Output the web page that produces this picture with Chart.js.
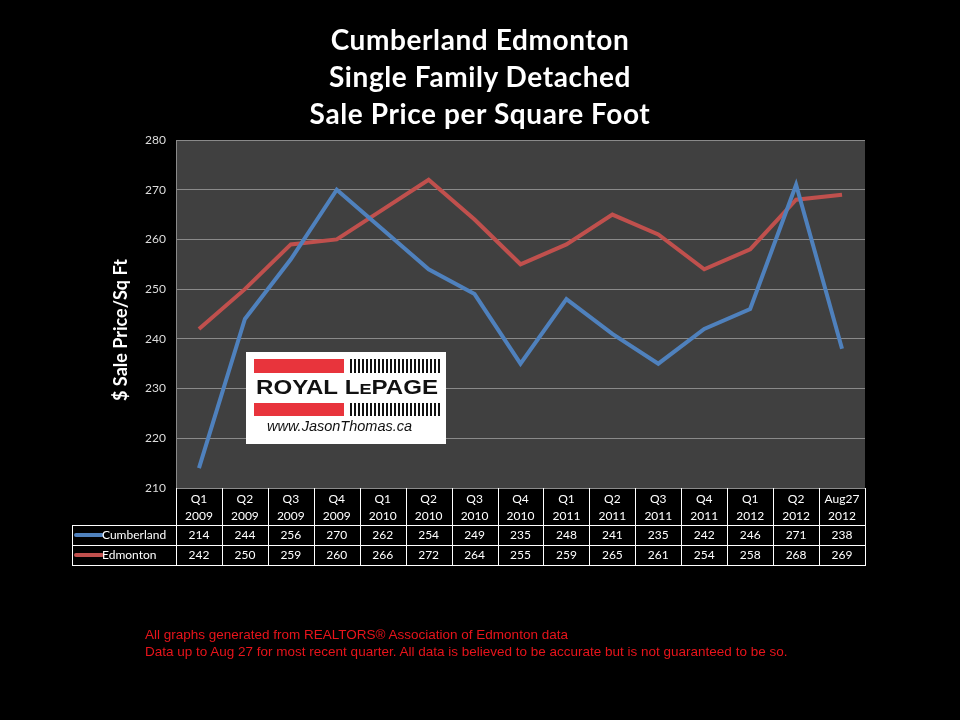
<!DOCTYPE html>
<html>
<head>
<meta charset="utf-8">
<script src="https://cdn.jsdelivr.net/npm/chart.js@4.4.1/dist/chart.umd.min.js"></script>
<style>
  body { margin: 0; background: #000; }
  #wrap { position: relative; width: 960px; height: 720px; background: #000; }
  #title {
    position: absolute; left: 0; top: 21px; width: 960px; text-align: center;
    color: #fff; font-family: Lato, 'Open Sans', sans-serif; font-weight: bold;
    font-size: 28px; line-height: 37px; letter-spacing: 0.6px;
  }
  #foot {
    position: absolute; left: 145px; top: 626px; color: #e8141b;
    font-family: 'Liberation Sans', sans-serif; font-size: 13.5px; line-height: 17px;
  }
  canvas { position: absolute; left: 0; top: 0; }
</style>
</head>
<body>
<div id="wrap">
  <canvas id="priceChart" width="960" height="720"></canvas>
  <div id="title">Cumberland Edmonton<br>Single Family Detached<br>Sale Price per Square Foot</div>
  <div id="foot">All graphs generated from REALTORS® Association of Edmonton data<br>Data up to Aug 27 for most recent quarter. All data is believed to be accurate but is not guaranteed to be so.</div>
</div>
<script>
const periods = [['Q1','2009'],['Q2','2009'],['Q3','2009'],['Q4','2009'],['Q1','2010'],['Q2','2010'],['Q3','2010'],['Q4','2010'],
                 ['Q1','2011'],['Q2','2011'],['Q3','2011'],['Q4','2011'],['Q1','2012'],['Q2','2012'],['Aug27','2012']];
const cumberland = [214, 244, 256, 270, 262, 254, 249, 235, 248, 241, 235, 242, 246, 271, 238];
const edmonton = [242, 250, 259, 260, 266, 272, 264, 255, 259, 265, 261, 254, 258, 268, 269];
const yTicks = { min: 210, max: 280, step: 10 };

const BLUE = '#4f81bd';
const RED = '#c0504d';
const FONT = "Lato, 'Open Sans', sans-serif";

// dark grey plot background
const plotBg = {
    id: 'plotBg',
    beforeDraw(chart) {
        const a = chart.chartArea, ctx = chart.ctx;
        ctx.save();
        ctx.fillStyle = '#404040';
        ctx.fillRect(a.left, a.top, a.right - a.left, a.bottom - a.top);
        ctx.restore();
    }
};

// y axis title, sits a bit below the middle like the original
const yTitle = {
    id: 'yTitle',
    afterDraw(chart) {
        const ctx = chart.ctx;
        ctx.save();
        ctx.translate(121, 330);
        ctx.rotate(-Math.PI / 2);
        ctx.fillStyle = '#fff';
        ctx.font = 'bold 18px ' + FONT;
        ctx.textAlign = 'center';
        ctx.textBaseline = 'middle';
        ctx.fillText('$ Sale Price/Sq Ft', 0, 0);
        ctx.restore();
    }
};

// data table under the plot (category labels + values)
const dataTable = {
    id: 'dataTable',
    afterDraw(chart) {
        const ctx = chart.ctx, a = chart.chartArea, x = chart.scales.x;
        const n = periods.length;
        const colW = (a.right - a.left) / n;
        const headBottom = a.bottom + 37;
        const row1 = headBottom + 20, row2 = row1 + 20;
        const tableLeft = 72;
        ctx.save();
        ctx.strokeStyle = '#fff';
        ctx.lineWidth = 1;
        ctx.beginPath();
        for (let i = 0; i <= n; i++) {
            const lx = Math.round(a.left + i * colW) + 0.5;
            ctx.moveTo(lx, a.bottom); ctx.lineTo(lx, row2);
        }
        ctx.moveTo(tableLeft + 0.5, headBottom); ctx.lineTo(tableLeft + 0.5, row2);
        [headBottom, row1, row2].forEach(ly => {
            ctx.moveTo(tableLeft, ly + 0.5); ctx.lineTo(Math.round(a.right) + 1, ly + 0.5);
        });
        ctx.stroke();

        ctx.fillStyle = '#fff';
        ctx.font = '12px ' + FONT;
        ctx.textAlign = 'center';
        ctx.textBaseline = 'middle';
        periods.forEach((p, i) => {
            const cx = x.getPixelForValue(i);
            ctx.fillText(p[0], cx, a.bottom + 11);
            ctx.fillText(p[1], cx, a.bottom + 28);
            ctx.fillText(cumberland[i], cx, headBottom + 10);
            ctx.fillText(edmonton[i], cx, row1 + 10);
        });

        // series keys
        ctx.textAlign = 'left';
        chart.data.datasets.forEach((ds, k) => {
            const cy = headBottom + 10 + k * 20;
            ctx.strokeStyle = ds.borderColor;
            ctx.lineWidth = 4;
            ctx.lineCap = 'round';
            ctx.beginPath();
            ctx.moveTo(76, cy); ctx.lineTo(102, cy);
            ctx.stroke();
            ctx.fillStyle = '#fff';
            ctx.fillText(ds.label, 102, cy);
        });
        ctx.restore();
    }
};

// Royal LePage badge
const logo = {
    id: 'logo',
    afterDraw(chart) {
        const ctx = chart.ctx;
        const L = 246, T = 352;
        ctx.save();
        ctx.fillStyle = '#fff';
        ctx.fillRect(L, T, 200, 92);
        ctx.fillStyle = '#e8343c';
        ctx.fillRect(L + 8, T + 7, 90, 14);
        ctx.fillRect(L + 8, T + 51, 90, 13);
        ctx.fillStyle = '#111';
        for (let bx = L + 104; bx < L + 193; bx += 4) {
            ctx.fillRect(bx, T + 7, 2, 14);
            ctx.fillRect(bx, T + 51, 2, 13);
        }
        // wordmark, stretched to the badge width
        const big = 'bold 20px "Liberation Sans", Arial, sans-serif';
        const small = 'bold 15px "Liberation Sans", Arial, sans-serif';
        ctx.font = big; const w1 = ctx.measureText('ROYAL L').width; const w3 = ctx.measureText('PAGE').width;
        ctx.font = small; const w2 = ctx.measureText('E').width;
        const sx = 182 / (w1 + w2 + w3);
        ctx.save();
        ctx.translate(L + 10, T + 42);
        ctx.scale(sx, 1);
        ctx.textBaseline = 'alphabetic';
        ctx.font = big; ctx.fillText('ROYAL L', 0, 0);
        ctx.font = small; ctx.fillText('E', w1, 0);
        ctx.font = big; ctx.fillText('PAGE', w1 + w2, 0);
        ctx.restore();
        ctx.font = 'italic 14.5px "Liberation Sans", Arial, sans-serif';
        ctx.fillText('www.JasonThomas.ca', L + 21, T + 79);
        ctx.restore();
    }
};

new Chart(document.getElementById('priceChart'), {
    type: 'line',
    data: {
        labels: periods.map(p => p.join(' ')),
        datasets: [
            { label: 'Cumberland', data: cumberland, borderColor: BLUE, backgroundColor: BLUE,
              borderWidth: 4, pointRadius: 0, tension: 0 },
            { label: 'Edmonton', data: edmonton, borderColor: RED, backgroundColor: RED,
              borderWidth: 4, pointRadius: 0, tension: 0 }
        ]
    },
    options: {
        responsive: false,
        animation: false,
        layout: { padding: { left: 106, top: 140, right: 95, bottom: 232 } },
        plugins: {
            legend: { display: false },
            tooltip: { enabled: false }
        },
        scales: {
            x: {
                display: false,
                offset: true
            },
            y: {
                min: yTicks.min,
                max: yTicks.max,
                afterFit(s) { s.width = 70; },
                ticks: { stepSize: yTicks.step, color: '#ddd', padding: 10, font: { family: FONT, size: 12 } },
                grid: { color: '#8a8a8a', drawTicks: false, lineWidth: 1 },
                border: { display: true, color: '#8a8a8a' }
            }
        }
    },
    plugins: [plotBg, yTitle, dataTable, logo]
});
</script>
</body>
</html>
